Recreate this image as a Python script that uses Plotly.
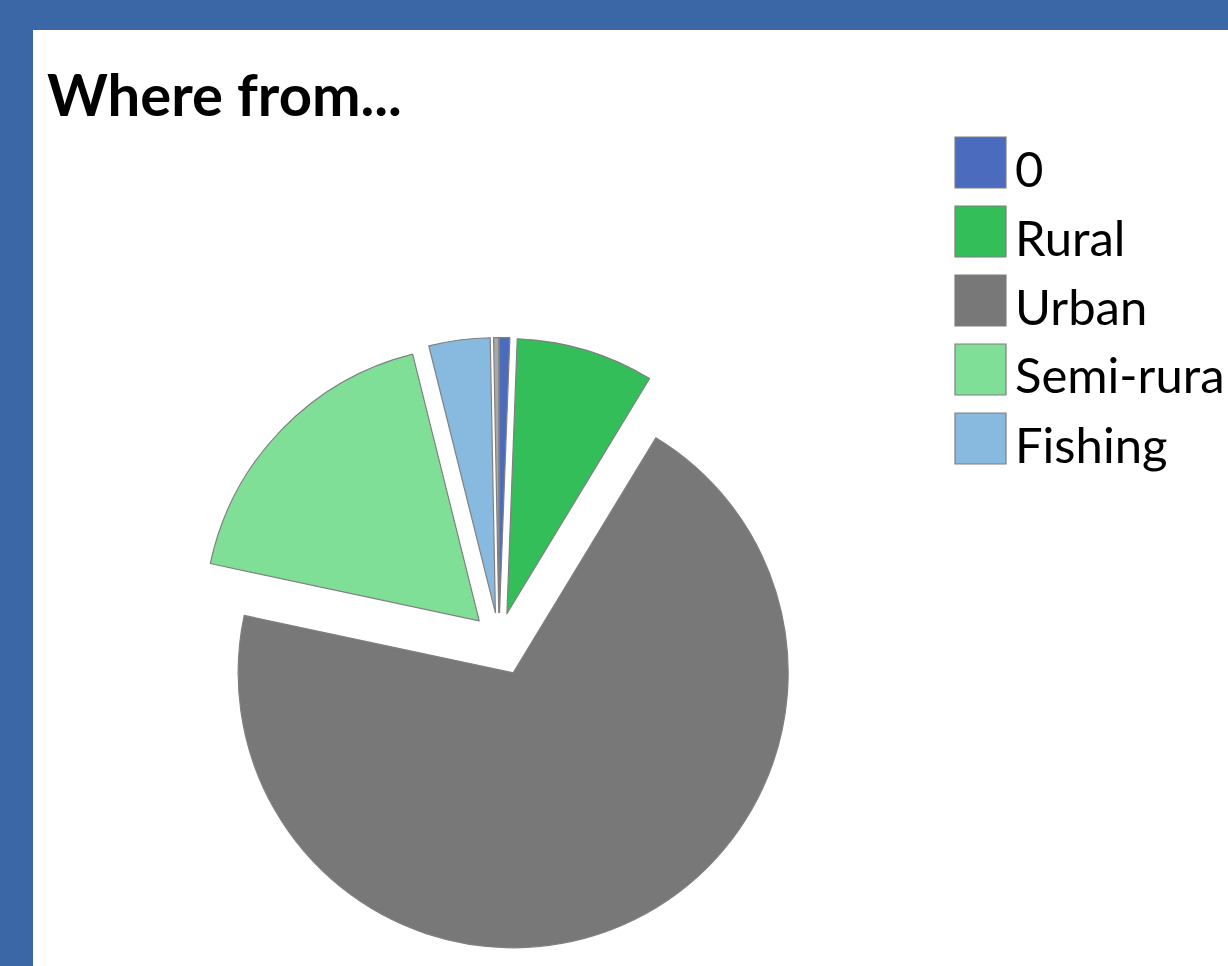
import plotly.graph_objects as go

# ---- data (percentages) ----
categories = ["0", "Rural", "Urban", "Semi-rural", "Fishing", "(blank)"]
shares = [0.6, 8.1, 69.8, 17.8, 3.6, 0.3]
legend_categories = ["0", "Rural", "Urban", "Semi-rural", "Fishing"]

colors = ["#4A6BBE", "#33BE5A", "#787878", "#7FDF96", "#88B9DE", "#A9A9A9"]
pulls = [0.10, 0.10, 0.13, 0.10, 0.10, 0.10]

W, H = 1228, 966
FRAME = "#3B67A7"

fig = go.Figure()
fig.add_trace(go.Pie(
    labels=categories,
    values=shares,
    sort=False,
    direction="clockwise",
    rotation=0,
    pull=pulls,
    marker=dict(colors=colors, line=dict(color="#808080", width=1.2)),
    textinfo="none",
    hoverinfo="label+percent",
    showlegend=False,
    domain=dict(x=[0.1533, 0.6594], y=[0.0158, 0.6592]),
))

shapes = [
    dict(type="rect", xref="paper", yref="paper", layer="below",
         x0=33 / W, x1=1.0, y0=0, y1=1 - 30 / H,
         fillcolor="white", line=dict(width=0)),
]
annotations = [
    dict(text="<b>Where from...</b>", xref="paper", yref="paper",
         x=45 / W, y=1 - 57 / H, xanchor="left", yanchor="top",
         showarrow=False, font=dict(family="Lato", size=58, color="black")),
]

# manual legend (large swatches, as in the reference)
sq_left, sq_size, row0, row_gap = 955, 51, 137, 69
for i, (name, col) in enumerate(zip(legend_categories, colors)):
    top = row0 + i * row_gap
    shapes.append(dict(type="rect", xref="paper", yref="paper",
                       x0=sq_left / W, x1=(sq_left + sq_size) / W,
                       y0=1 - (top + sq_size) / H, y1=1 - top / H,
                       fillcolor=col, line=dict(color="#7F7F7F", width=1.2)))
    annotations.append(dict(text=name, xref="paper", yref="paper",
                            x=1013 / W, y=1 - (top + sq_size / 2 + 5) / H,
                            xanchor="left", yanchor="middle", showarrow=False,
                            font=dict(family="Lato", size=49, color="black")))

fig.update_layout(
    width=W, height=H,
    margin=dict(l=0, r=0, t=0, b=0, autoexpand=False),
    paper_bgcolor=FRAME,
    plot_bgcolor=FRAME,
    shapes=shapes,
    annotations=annotations,
)

fig.write_html("out.html",
               config={"displayModeBar": False},
               post_script="document.body.style.margin='0';document.body.style.overflow='hidden';")
